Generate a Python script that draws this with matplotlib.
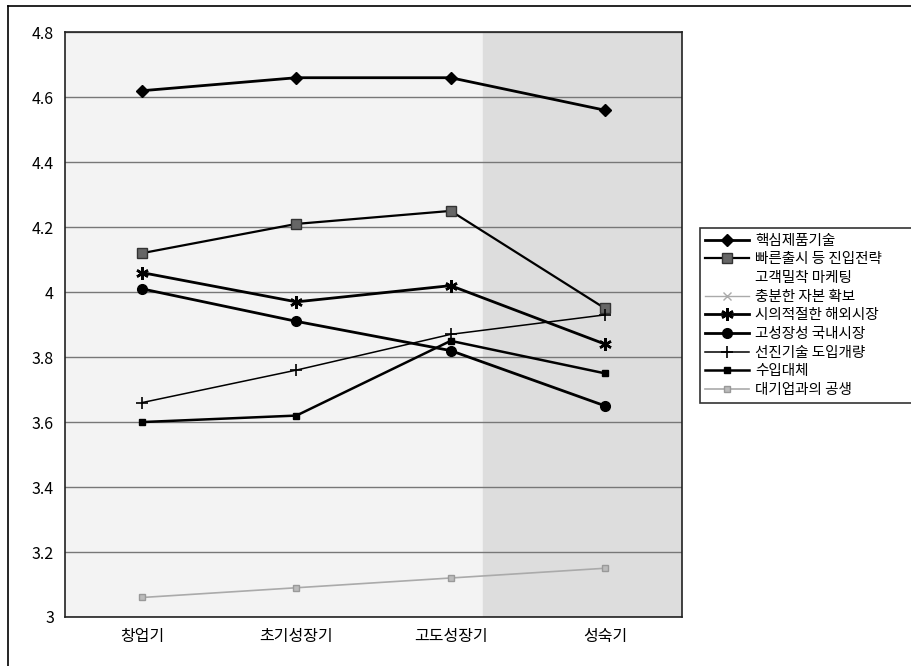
import matplotlib.pyplot as plt
from matplotlib.lines import Line2D

plt.rcParams['font.family'] = ['Noto Sans CJK KR', 'DejaVu Sans']

stages = ["창업기", "초기성장기", "고도성장기", "성숙기"]
yticks = [3, 3.2, 3.4, 3.6, 3.8, 4, 4.2, 4.4, 4.6, 4.8]

core_tech = [4.62, 4.66, 4.66, 4.56]
fast_entry = [4.12, 4.21, 4.25, 3.95]
overseas = [4.06, 3.97, 4.02, 3.84]
domestic = [4.01, 3.91, 3.82, 3.65]
adv_tech = [3.66, 3.76, 3.87, 3.93]
import_sub = [3.60, 3.62, 3.85, 3.75]
symbiosis = [3.06, 3.09, 3.12, 3.15]

fig = plt.figure(figsize=(9.11, 6.66), dpi=100)
ax = fig.add_axes([0.0714, 0.0736, 0.6773, 0.878])

x = range(len(stages))
ax.axvspan(-0.5, 2.21, color="#f3f3f3", zorder=0)
ax.axvspan(2.21, 3.5, color="#dddddd", zorder=0)
for t in yticks:
    ax.axhline(t, color="#777777", lw=1, zorder=1)

ax.plot(x, core_tech, color="black", lw=2, marker="D", ms=6, zorder=3)
ax.plot(x, fast_entry, color="black", lw=1.6, marker="s", ms=7,
        mfc="#666666", mec="#333333", zorder=3)
ax.plot(x, overseas, color="black", lw=2, marker=(6, 2, 0), ms=9, mew=1.8, zorder=3)
ax.plot(x, domestic, color="black", lw=2, marker="o", ms=7, zorder=3)
ax.plot(x, adv_tech, color="black", lw=1.1, marker="+", ms=9, mew=1.2, zorder=3)
ax.plot(x, import_sub, color="black", lw=1.8, marker="s", ms=5, zorder=3)
ax.plot(x, symbiosis, color="#aaaaaa", lw=1.2, marker="s", ms=4,
        mfc="#bbbbbb", mec="#999999", zorder=3)

ax.set_xlim(-0.5, 3.5)
ax.set_ylim(3, 4.8)
ax.set_yticks(yticks)
ax.set_yticklabels(["3", "3.2", "3.4", "3.6", "3.8", "4", "4.2", "4.4", "4.6", "4.8"])
ax.set_xticks(list(x))
ax.set_xticklabels(stages, fontweight="medium")
ax.tick_params(length=0, labelsize=11.5, pad=8)
for s in ax.spines.values():
    s.set_color("#222222")
    s.set_linewidth(1.2)

handles = [
    Line2D([], [], color="black", lw=2, marker="D", ms=6),
    Line2D([], [], color="black", lw=1.6, marker="s", ms=7, mfc="#666666", mec="#333333"),
    Line2D([], [], color="white", lw=1),
    Line2D([], [], color="#aaaaaa", lw=1, marker="x", ms=6),
    Line2D([], [], color="black", lw=2, marker=(6, 2, 0), ms=9, mew=1.8),
    Line2D([], [], color="black", lw=2, marker="o", ms=7),
    Line2D([], [], color="black", lw=1.1, marker="+", ms=9, mew=1.2),
    Line2D([], [], color="black", lw=1.8, marker="s", ms=5),
    Line2D([], [], color="#aaaaaa", lw=1.2, marker="s", ms=4, mfc="#bbbbbb", mec="#999999"),
]
labels = ["핵심제품기술", "빠른출시 등 진입전략", "고객밀착 마케팅", "충분한 자본 확보",
          "시의적절한 해외시장", "고성장성 국내시장", "선진기술 도입개량", "수입대체",
          "대기업과의 공생"]
leg = fig.legend(handles, labels, loc="upper left", bbox_to_anchor=(0.768, 0.26, 0.25, 0.398),
                 mode="expand", fontsize=10.5, frameon=True, fancybox=False,
                 edgecolor="black", handlelength=3, handletextpad=0.4,
                 labelspacing=0.32, borderpad=0.4, borderaxespad=0)
leg.get_frame().set_linewidth(1.2)

# outer frame (only top and left edges show in the scan)
fig.add_artist(Line2D([0.009, 1.0], [0.991, 0.991], transform=fig.transFigure,
                      color="black", lw=1.2))
fig.add_artist(Line2D([0.009, 0.009], [0.0, 0.991], transform=fig.transFigure,
                      color="black", lw=1.2))

fig.savefig("out.png", dpi=100)
